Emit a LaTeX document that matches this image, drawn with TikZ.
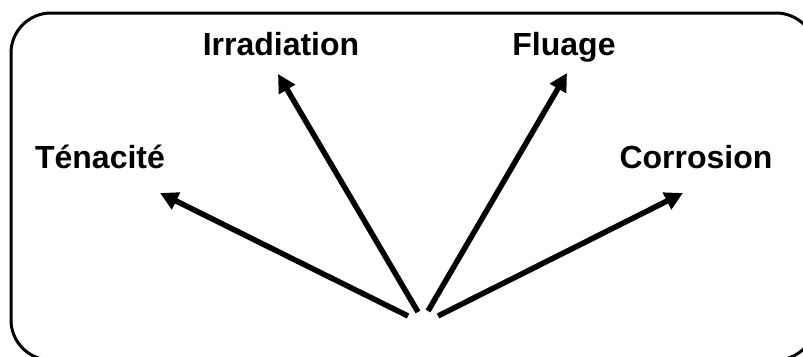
\documentclass[tikz,border=0pt]{standalone}
\usepackage{fontspec}
\setmainfont{Liberation Sans}
\usetikzlibrary{arrows.meta}
\tikzset{
  etiquette/.style={anchor=base,font=\bfseries\fontsize{32}{38}\selectfont},
  fleche/.style={line width=5.5pt,-{Triangle[length=18pt,width=18pt]}}
}
\begin{document}
\begin{tikzpicture}[x=1pt,y=-1pt]
            \useasboundingbox (0,0) rectangle (803,356);
            \clip (0,0) rectangle (803,356);

            % Cadre
            \draw[line width=3pt,rounded corners=40pt] (11,13) rectangle (816,360);

            % Proprietes
            \node[etiquette] (ten) at (100,168) {Ténacité};
            \node[etiquette] (irr) at (281,55) {Irradiation};
            \node[etiquette] (flu) at (564,55) {Fluage};
            \node[etiquette] (cor) at (696,168) {Corrosion};

            % Points de depart et pointes
            \coordinate (d1) at (408,316);
            \coordinate (d2) at (418,312);
            \coordinate (d3) at (428,311);
            \coordinate (d4) at (438,316);
            \coordinate (p1) at (160,193);
            \coordinate (p2) at (278,74);
            \coordinate (p3) at (567,73);
            \coordinate (p4) at (683,193);

            % Fleches
            \draw[fleche] (d1) -- (p1);
            \draw[fleche] (d2) -- (p2);
            \draw[fleche] (d3) -- (p3);
            \draw[fleche] (d4) -- (p4);
\end{tikzpicture}
\end{document}
